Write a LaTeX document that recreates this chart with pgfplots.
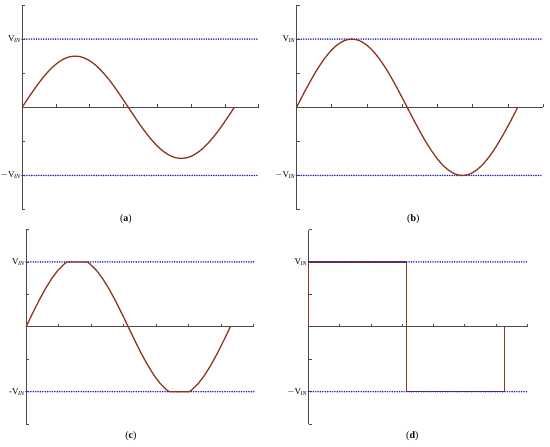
\documentclass[border=0pt]{standalone}
\usepackage{fontspec}
\setmainfont{Liberation Serif}
\usepackage{pgfplots}
\pgfplotsset{compat=1.18}
\definecolor{curve}{RGB}{140,55,30}
\definecolor{dotblue}{RGB}{30,30,200}
\definecolor{axgray}{RGB}{75,75,75}

% shared panel style
\pgfplotsset{panel/.style={
    scale only axis,
    axis lines=middle,
    axis line style={-, axgray, line width=0.8pt},
    xmin=0, xmax=7, ymin=-1.5, ymax=1.5,
    xtick={1,2,3,4,5,6,7},
    ytick={-1.5,-1,-0.5,0.5,1,1.5},
    xticklabels={}, yticklabels={},
    tick align=inside,
    major tick length=3pt,
    tick style={axgray, line width=0.6pt},
    clip=false,
  },
  vin/.style={draw=dotblue, line width=1.7pt, line cap=round, dash pattern=on 0pt off 2.4pt},
  wave/.style={curve, line width=1.3pt},
}
\newcommand{\vlab}{V\textsubscript{\kern-0.5pt\textit{IN}}}

\begin{document}
\begin{tikzpicture}[x=1pt,y=1pt]
\path (0,0) rectangle (550,447);

% (a)
\begin{axis}[panel, at={(21pt,237pt)}, anchor=south west, width=237pt, height=205pt]
\addplot[vin] coordinates {(0,-1) (7,-1)};
\addplot[vin] coordinates {(0,1) (7,1)};
\addplot[wave, smooth] coordinates {(0,0) (0.196,0.146) (0.393,0.287) (0.589,0.417) (0.785,0.530) (0.982,0.624) (1.178,0.693) (1.374,0.736) (1.571,0.75) (1.767,0.736) (1.963,0.693) (2.160,0.624) (2.356,0.530) (2.553,0.417) (2.749,0.287) (2.945,0.146) (3.142,0) (3.338,-0.146) (3.534,-0.287) (3.731,-0.417) (3.927,-0.530) (4.123,-0.624) (4.320,-0.693) (4.516,-0.736) (4.712,-0.75) (4.909,-0.736) (5.105,-0.693) (5.301,-0.624) (5.498,-0.530) (5.694,-0.417) (5.890,-0.287) (6.087,-0.146) (6.283,0)};
\node[anchor=east, font=\fontsize{9}{10}\selectfont, inner sep=1pt] at (axis cs:0,1) {\vlab};
\node[anchor=east, font=\fontsize{9}{10}\selectfont, inner sep=1pt] at (axis cs:0,-1) {$-$\vlab};
\end{axis}

% (b)
\begin{axis}[panel, at={(296pt,237pt)}, anchor=south west, width=247pt, height=205pt]
\addplot[vin] coordinates {(0,-1) (7,-1)};
\addplot[vin] coordinates {(0,1) (7,1)};
\addplot[wave, smooth] coordinates {(0,0) (0.196,0.195) (0.393,0.383) (0.589,0.556) (0.785,0.707) (0.982,0.832) (1.178,0.924) (1.374,0.981) (1.571,1) (1.767,0.981) (1.963,0.924) (2.160,0.832) (2.356,0.707) (2.553,0.556) (2.749,0.383) (2.945,0.195) (3.142,0) (3.338,-0.195) (3.534,-0.383) (3.731,-0.556) (3.927,-0.707) (4.123,-0.832) (4.320,-0.924) (4.516,-0.981) (4.712,-1) (4.909,-0.981) (5.105,-0.924) (5.301,-0.832) (5.498,-0.707) (5.694,-0.556) (5.890,-0.383) (6.087,-0.195) (6.283,0)};
\node[anchor=east, font=\fontsize{9}{10}\selectfont, inner sep=1pt] at (axis cs:0,1) {\vlab};
\node[anchor=east, font=\fontsize{9}{10}\selectfont, inner sep=1pt] at (axis cs:0,-1) {$-$\vlab};
\end{axis}

% (c)
\begin{axis}[panel, at={(25pt,22pt)}, anchor=south west, width=228pt, height=195pt]
\addplot[vin] coordinates {(0,-1) (7,-1)};
\addplot[vin] coordinates {(0,1) (7,1)};
\addplot[wave] coordinates {(0,0) (0.196,0.205) (0.393,0.402) (0.589,0.583) (0.785,0.742) (0.982,0.873) (1.178,0.970) (1.261,1) (1.881,1) (1.963,0.970) (2.160,0.873) (2.356,0.742) (2.553,0.583) (2.749,0.402) (2.945,0.205) (3.142,0) (3.338,-0.205) (3.534,-0.402) (3.731,-0.583) (3.927,-0.742) (4.123,-0.873) (4.320,-0.970) (4.403,-1) (5.022,-1) (5.105,-0.970) (5.301,-0.873) (5.498,-0.742) (5.694,-0.583) (5.890,-0.402) (6.087,-0.205) (6.283,0)};
\node[anchor=east, font=\fontsize{9}{10}\selectfont, inner sep=1pt] at (axis cs:0,1) {\vlab};
\node[anchor=east, font=\fontsize{9}{10}\selectfont, inner sep=1pt] at (axis cs:0,-1) {-\vlab};
\end{axis}

% (d)
\begin{axis}[panel, at={(308pt,22pt)}, anchor=south west, width=219pt, height=195pt]
\addplot[wave] coordinates {(0,0) (0,1) (3.142,1) (3.142,-1) (6.283,-1) (6.283,0)};
\addplot[vin] coordinates {(0,-1) (7,-1)};
\addplot[vin] coordinates {(0,1) (7,1)};
\node[anchor=east, font=\fontsize{9}{10}\selectfont, inner sep=1pt] at (axis cs:0,1) {\vlab};
\node[anchor=east, font=\fontsize{9}{10}\selectfont, inner sep=1pt] at (axis cs:0,-1) {$-$\vlab};
\end{axis}

\node[font=\fontsize{10}{12}\selectfont] at (125,227) {(\textbf{a})};
\node[font=\fontsize{10}{12}\selectfont] at (413,227) {(\textbf{b})};
\node[font=\fontsize{10}{12}\selectfont] at (130,10) {(\textbf{c})};
\node[font=\fontsize{10}{12}\selectfont] at (412,10) {(\textbf{d})};
\end{tikzpicture}
\end{document}
